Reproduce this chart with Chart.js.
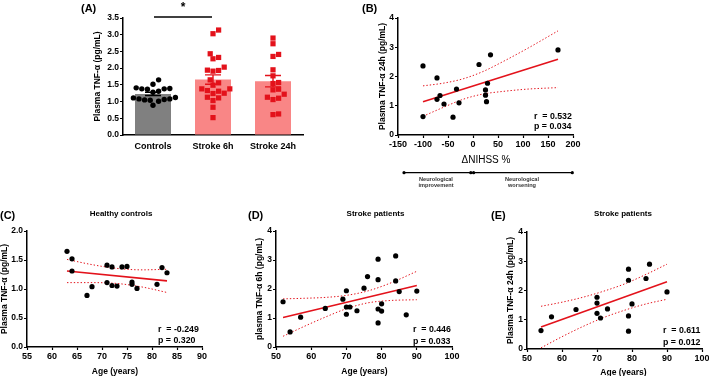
<!DOCTYPE html>
<html><head><meta charset="utf-8">
<script src="https://cdn.jsdelivr.net/npm/chart.js@4/dist/chart.umd.min.js"></script>
<style>
html,body{margin:0;padding:0;background:#fff;}
#wrap{position:relative;width:709px;height:376px;overflow:hidden;font-family:"Liberation Sans",Arial,sans-serif;font-weight:bold;color:#000;}
canvas{position:absolute;left:0;top:0;}
.t{position:absolute;white-space:pre;line-height:1;}
.c{transform:translate(-50%,-50%);}
.l{transform:translate(0,-50%);}
</style></head><body>
<div id="wrap">
<canvas id="cA" width="709" height="376"></canvas>
<canvas id="cB" width="709" height="376"></canvas>
<canvas id="cC" width="709" height="376"></canvas>
<canvas id="cD" width="709" height="376"></canvas>
<canvas id="cE" width="709" height="376"></canvas>

<div class="t l" style="left:81px;top:7.5px;font-size:11px;">(A)</div>
<div class="t l" style="left:362px;top:7.5px;font-size:11px;">(B)</div>
<div class="t l" style="left:0px;top:215px;font-size:11px;">(C)</div>
<div class="t l" style="left:248px;top:214.5px;font-size:11px;">(D)</div>
<div class="t l" style="left:491px;top:215px;font-size:11px;">(E)</div>

<div class="t c" style="left:121px;top:214px;font-size:8px;">Healthy controls</div>
<div class="t c" style="left:375.5px;top:214px;font-size:8px;">Stroke patients</div>
<div class="t c" style="left:623px;top:214px;font-size:8px;">Stroke patients</div>

<div class="t c" style="left:486px;top:160px;font-size:10px;font-weight:normal;">ΔNIHSS %</div>
<div class="t c" style="left:115px;top:371px;font-size:8.5px;">Age (years)</div>
<div class="t c" style="left:364.5px;top:370.5px;font-size:8.5px;">Age (years)</div>
<div class="t c" style="left:623.5px;top:371.5px;font-size:8.5px;">Age (years)</div>

<div class="t l" style="left:534px;top:116px;font-size:8.8px;">r  = 0.532</div>
<div class="t l" style="left:534px;top:125.5px;font-size:8.8px;">p = 0.034</div>
<div class="t l" style="left:158px;top:329px;font-size:8.8px;">r  = -0.249</div>
<div class="t l" style="left:158px;top:340px;font-size:8.8px;">p = 0.320</div>
<div class="t l" style="left:413px;top:329px;font-size:8.8px;">r  = 0.446</div>
<div class="t l" style="left:413px;top:340.5px;font-size:8.8px;">p = 0.033</div>
<div class="t l" style="left:663px;top:330px;font-size:8.8px;">r  = 0.611</div>
<div class="t l" style="left:663px;top:341.5px;font-size:8.8px;">p = 0.012</div>

<svg style="position:absolute;left:0;top:0;" width="709" height="376">
  <line x1="404" y1="172.7" x2="572.3" y2="172.7" stroke="#000" stroke-width="1.3"/>
  <circle cx="404" cy="172.7" r="1.6" fill="#000"/>
  <circle cx="470.8" cy="172.7" r="1.6" fill="#000"/>
  <circle cx="473.6" cy="172.7" r="1.6" fill="#000"/>
  <circle cx="572.3" cy="172.7" r="1.6" fill="#000"/>
</svg>
<div class="t c" style="left:436px;top:181.5px;font-size:5.6px;line-height:6.2px;text-align:center;color:#333;">Neurological
improvement</div>
<div class="t c" style="left:522px;top:181.5px;font-size:5.6px;line-height:6.2px;text-align:center;color:#333;">Neurological
worsening</div>
</div>
<script>
// ---------- data ----------
const groupLabels = ['Controls', 'Stroke 6h', 'Stroke 24h'];
const groupMeans = [1.23, 1.66, 1.61];
const groupSems = [0.05, 0.14, 0.17];

const controlsAge = [63, 64, 64, 67, 68, 71, 71, 72, 72, 73, 74, 75, 76, 76, 77, 81, 82, 83];
const controlsTnf = [1.65, 1.52, 1.31, 0.89, 1.04, 1.41, 1.11, 1.38, 1.06, 1.05, 1.38, 1.39, 1.12, 1.08, 1.01, 1.08, 1.37, 1.28];

const stroke6hAge = [52, 54, 57, 64, 69, 70, 70, 70, 71, 73, 75, 76, 79, 79, 79, 79, 80, 80, 84, 84, 85, 87, 90];
const stroke6hTnf = [1.56, 0.52, 1.03, 1.33, 1.65, 1.94, 1.38, 1.13, 1.38, 1.25, 2.03, 2.43, 3.03, 2.32, 1.31, 0.83, 1.49, 1.24, 3.14, 2.28, 1.91, 1.11, 1.93];

const stroke24hAge = [54, 57, 64, 70, 70, 70, 71, 73, 79, 79, 79, 79, 80, 84, 85, 90];
const stroke24hTnf = [0.63, 1.10, 1.35, 1.77, 1.57, 1.22, 1.06, 1.37, 2.73, 2.35, 1.13, 0.61, 1.54, 2.41, 2.90, 1.95];

const nihssDelta = [-100, -100, -72, -72, -66, -58, -40, -33, -28, 12, 35, 25, 25, 29, 27, 170];
const nihssTnf24h = [2.36, 0.63, 1.95, 1.22, 1.35, 1.06, 0.61, 1.57, 1.10, 2.41, 2.74, 1.36, 1.54, 1.77, 1.14, 2.91];

// regression lines and 95% confidence bands
const fitBx = [-100, 170], fitBy = [1.14, 2.59];
const ciBx = [-100, -60, -20, 20, 60, 110, 170];
const ciBup = [1.68, 1.77, 1.92, 2.17, 2.51, 2.97, 3.56];
const ciBlo = [0.64, 0.94, 1.22, 1.40, 1.49, 1.57, 1.62];

const fitCx = [63, 83], fitCy = [1.31, 1.14];
const ciCx = [63, 68, 73, 78, 83];
const ciCup = [1.51, 1.42, 1.355, 1.33, 1.34];
const ciClo = [1.11, 1.11, 1.095, 1.035, 0.94];

const fitDx = [52, 90], fitDy = [1.02, 2.12];
const ciDx = [52, 58, 64, 70, 76, 82, 90];
const ciDup = [1.66, 1.68, 1.71, 1.78, 1.93, 2.18, 2.61];
const ciDlo = [0.37, 0.71, 1.03, 1.32, 1.52, 1.60, 1.63];

const fitEx = [54, 90], fitEy = [0.75, 2.30];
const ciEx = [54, 60, 66, 72, 78, 84, 90];
const ciEup = [1.46, 1.60, 1.77, 1.98, 2.23, 2.55, 2.90];
const ciElo = [0.04, 0.42, 0.77, 1.08, 1.33, 1.54, 1.70];

// ---------- helpers ----------
const FONT = '"Liberation Sans", Arial, sans-serif';
const RED = '#e3121b';
const RED_BAR = '#f98686';
const W = 709, H = 376;
Chart.defaults.font.family = FONT;
Chart.defaults.color = '#000';

const pts = (xs, ys) => xs.map((x, i) => ({x: x, y: ys[i]}));

function yAxis(o) {
  return {
    type: 'linear', position: 'left', min: o.min, max: o.max,
    ticks: {stepSize: o.step, color: '#000', padding: 1, font: {size: 8.5, weight: 'bold'},
      callback: v => o.dec ? Number(v).toFixed(o.dec) : String(v)},
    grid: {drawOnChartArea: false, drawTicks: true, tickLength: 3, tickColor: '#000', tickWidth: 1.2},
    border: {display: true, color: '#000', width: 1.5},
    title: {display: true, text: o.title, color: '#000', padding: 0, font: {size: 8.5, weight: 'bold'}},
    afterFit: s => { s.width = o.width; s.paddingTop = 0; s.paddingBottom = 0; }
  };
}
function xAxis(o) {
  return {
    type: 'linear', position: 'bottom', min: o.min, max: o.max, offset: false,
    ticks: {stepSize: o.step, color: '#000', padding: 1, font: {size: 9, weight: 'bold'}, maxRotation: 0, autoSkip: false},
    grid: {drawOnChartArea: false, drawTicks: true, tickLength: 3, tickColor: '#000', tickWidth: 1.2},
    border: {display: true, color: '#000', width: 1.5},
    afterFit: s => { s.height = 20; s.paddingLeft = 0; s.paddingRight = 0; }
  };
}
function layoutFor(g) {
  const lh = 8.5 * 1.2;
  return {padding: {left: g.titleX - lh / 2, top: g.T, right: W - g.R, bottom: H - g.B - 20}};
}

function scatterPanel(id, g, xs, ys, fx, fy, cx, cup, clo, xo, yo) {
  const yo2 = Object.assign({}, yo, {width: g.L - (g.titleX - 5.1)});
  new Chart(document.getElementById(id), {
    type: 'scatter',
    data: {datasets: [
      {data: pts(xs, ys), pointRadius: 2.6, pointBackgroundColor: '#000', pointBorderWidth: 0, showLine: false},
      {data: pts(fx, fy), showLine: true, borderColor: RED, borderWidth: 1.6, pointRadius: 0},
      {data: pts(cx, cup), showLine: true, borderColor: RED, borderWidth: 1, borderDash: [1.4, 2], pointRadius: 0, cubicInterpolationMode: 'monotone'},
      {data: pts(cx, clo), showLine: true, borderColor: RED, borderWidth: 1, borderDash: [1.4, 2], pointRadius: 0, cubicInterpolationMode: 'monotone'}
    ]},
    options: {
      responsive: false, animation: false, devicePixelRatio: 1,
      layout: layoutFor(g),
      plugins: {legend: {display: false}, tooltip: {enabled: false}},
      scales: {x: xAxis(xo), y: yAxis(yo2)}
    }
  });
}

// ---------- panel A: bar + dot plot ----------
function swarm(vals, unitPx, catPx, diam) {
  const placed = [];
  const out = new Array(vals.length);
  const idx = vals.map((v, i) => i).sort((a, b) => vals[a] - vals[b]);
  idx.forEach(i => {
    const yp = vals[i] * unitPx;
    let best = 0;
    for (let k = 0; k < 400; k++) {
      const off = k === 0 ? 0 : (k % 2 === 1 ? 1 : -1) * Math.ceil(k / 2) * diam / 2;
      if (placed.every(p => Math.hypot(p.x - off, p.y - yp) >= diam)) { best = off; break; }
    }
    placed.push({x: best, y: yp});
    out[i] = best / catPx;
  });
  return out;
}
const gA = {L: 123, R: 303, T: 18, B: 135, titleX: 98};
const unitA = (gA.B - gA.T) / 3.5, catA = (gA.R - gA.L) / 3;
const groupsA = [controlsTnf, stroke6hTnf, stroke24hTnf];
const dotsA = groupsA.map((vals, gi) => {
  const off = swarm(vals, unitA, catA, 5.6);
  return vals.map((v, i) => ({x: gi + off[i], y: v}));
});

const errorBars = {
  id: 'errorBars',
  afterDatasetsDraw(chart) {
    const ctx = chart.ctx, xs = chart.scales.x, ys = chart.scales.y;
    ctx.save();
    groupMeans.forEach((m, i) => {
      const x = xs.getPixelForValue(i);
      const y1 = ys.getPixelForValue(m + groupSems[i]);
      const y0 = ys.getPixelForValue(m - groupSems[i]);
      ctx.strokeStyle = i === 0 ? '#000' : RED;
      ctx.lineWidth = 1.4;
      ctx.beginPath();
      ctx.moveTo(x, y0); ctx.lineTo(x, y1);
      ctx.moveTo(x - 8, y1); ctx.lineTo(x + 8, y1);
      ctx.moveTo(x - 8, y0); ctx.lineTo(x + 8, y0);
      ctx.stroke();
    });
    // significance bracket Controls vs Stroke 6h
    const xa = xs.getPixelForValue(0) + 1, xb = xs.getPixelForValue(1) - 1;
    const yb = chart.chartArea.top - 1;
    ctx.strokeStyle = '#000'; ctx.lineWidth = 1.3;
    ctx.beginPath(); ctx.moveTo(xa, yb); ctx.lineTo(xb, yb); ctx.stroke();
    ctx.fillStyle = '#000';
    ctx.font = 'bold 12px ' + FONT;
    ctx.textAlign = 'center'; ctx.textBaseline = 'middle';
    ctx.fillText('*', (xa + xb) / 2, 8);
    ctx.restore();
  }
};

new Chart(document.getElementById('cA'), {
  type: 'bar',
  data: {
    datasets: [
      {type: 'scatter', data: dotsA[0], pointStyle: 'circle', pointRadius: 2.7, pointBackgroundColor: '#000', pointBorderWidth: 0, order: 1},
      {type: 'scatter', data: dotsA[1], pointStyle: 'rect', pointRadius: 3.7, pointBackgroundColor: RED, pointBorderWidth: 0, order: 1},
      {type: 'scatter', data: dotsA[2], pointStyle: 'rect', pointRadius: 3.7, pointBackgroundColor: RED, pointBorderWidth: 0, order: 1},
      {type: 'bar', data: groupMeans.map((m, i) => ({x: i, y: m})), backgroundColor: ['#808080', RED_BAR, RED_BAR],
       grouped: false, categoryPercentage: 1, barPercentage: 0.6, order: 2}
    ]
  },
  options: {
    responsive: false, animation: false, devicePixelRatio: 1,
    layout: layoutFor(gA),
    plugins: {legend: {display: false}, tooltip: {enabled: false}},
    scales: {
      x: {
        type: 'linear', position: 'bottom', min: -0.5, max: 2.5, offset: false,
        afterBuildTicks: s => { s.ticks = groupLabels.map((g, i) => ({value: i})); },
        ticks: {color: '#000', padding: 6, font: {size: 9, weight: 'bold'}, maxRotation: 0, autoSkip: false,
          callback: v => groupLabels[v]},
        grid: {drawOnChartArea: false, drawTicks: false},
        border: {display: true, color: '#000', width: 1.5},
        afterFit: s => { s.height = 20; s.paddingLeft = 0; s.paddingRight = 0; }
      },
      y: yAxis({min: 0, max: 3.5, step: 0.5, dec: 1, title: 'Plasma TNF-α (pg/mL)', width: gA.L - (gA.titleX - 5.1)})
    }
  },
  plugins: [errorBars]
});

// ---------- panels B-E ----------
scatterPanel('cB', {L: 398, R: 573, T: 18, B: 135, titleX: 383},
  nihssDelta, nihssTnf24h, fitBx, fitBy, ciBx, ciBup, ciBlo,
  {min: -150, max: 200, step: 50},
  {min: 0, max: 4, step: 1, title: 'Plasma TNF-α 24h (pg/mL)'});

scatterPanel('cC', {L: 27, R: 202, T: 231, B: 347, titleX: 5.1},
  controlsAge, controlsTnf, fitCx, fitCy, ciCx, ciCup, ciClo,
  {min: 55, max: 90, step: 5},
  {min: 0, max: 2, step: 0.5, dec: 1, title: 'Plasma TNF-α (pg/mL)'});

scatterPanel('cD', {L: 276, R: 452, T: 231, B: 347, titleX: 259.5},
  stroke6hAge, stroke6hTnf, fitDx, fitDy, ciDx, ciDup, ciDlo,
  {min: 50, max: 100, step: 10},
  {min: 0, max: 4, step: 1, title: 'plasma TNF-α 6h (pg/mL)'});

scatterPanel('cE', {L: 527, R: 702, T: 232, B: 349, titleX: 511},
  stroke24hAge, stroke24hTnf, fitEx, fitEy, ciEx, ciEup, ciElo,
  {min: 50, max: 100, step: 10},
  {min: 0, max: 4, step: 1, title: 'Plasma TNF-α 24h (pg/mL)'});
</script>
</body></html>
